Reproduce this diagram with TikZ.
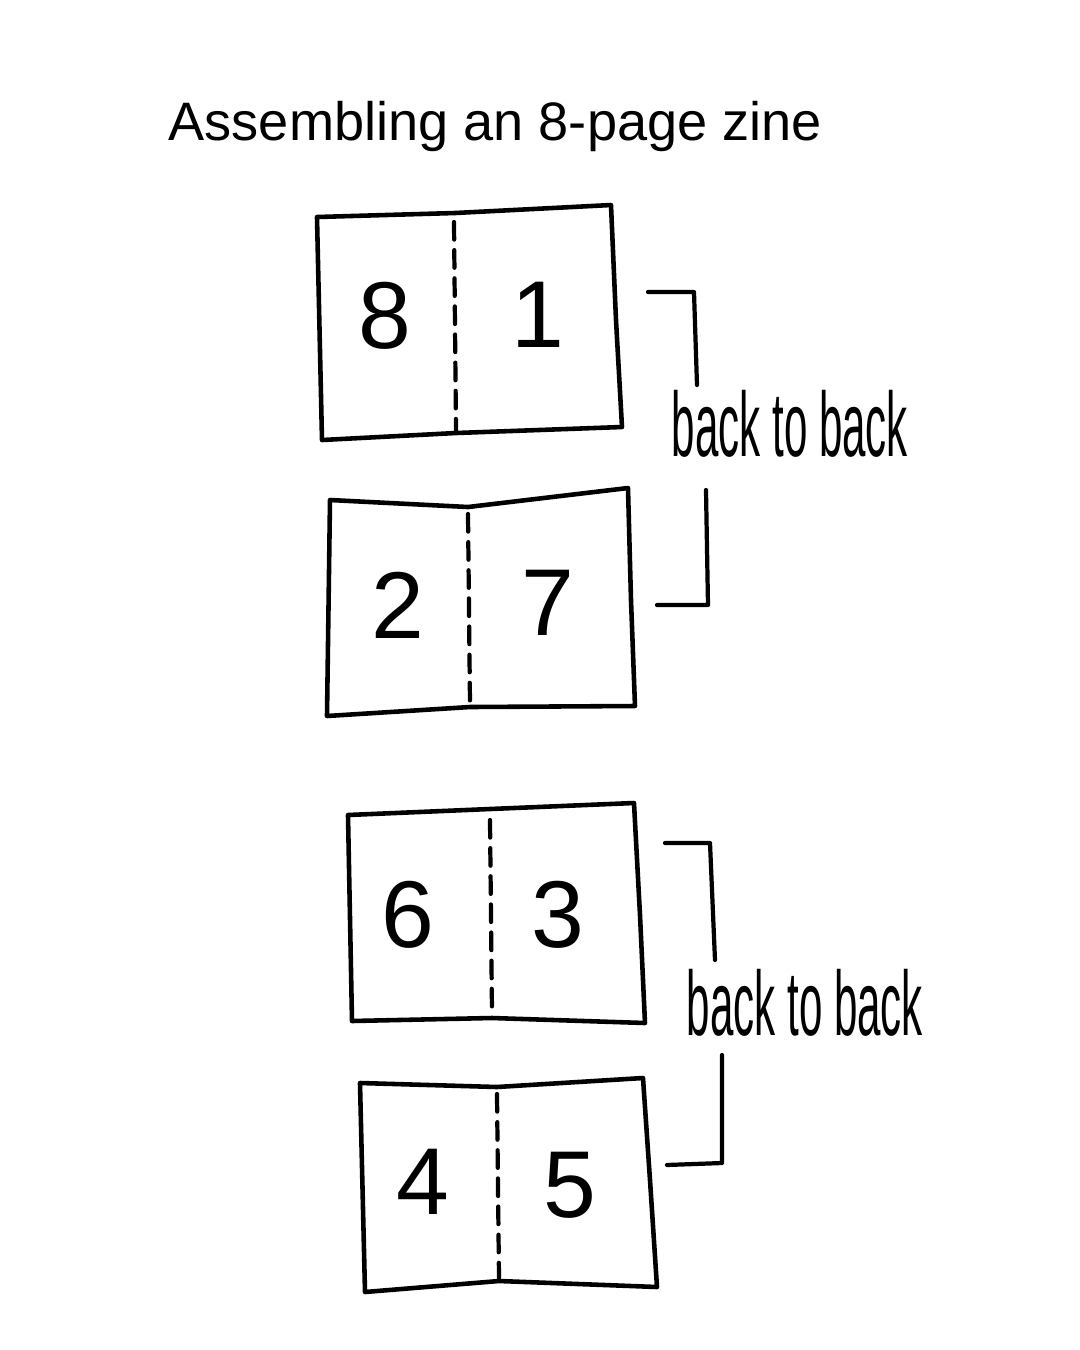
\documentclass[tikz,border=0pt]{standalone}
\usepackage{fontspec}
\setmainfont{Liberation Sans}
\usetikzlibrary{positioning}

\begin{document}
\begin{tikzpicture}[x=0.01cm, y=-0.01cm, line join=round, line cap=round,
    sheet/.style={line width=1.3pt},
    fold/.style={line width=1.2pt, dash pattern=on 5pt off 3pt},
    bracket/.style={line width=1.2pt},
    pagenum/.style={inner sep=0pt, font=\fontsize{27}{27}\selectfont},
    note/.style={inner sep=0pt, font=\fontsize{26}{26}\selectfont, xscale=0.46}]

    \useasboundingbox (0,0) rectangle (1080,1350);
    \node (title) [anchor=base west, inner sep=0pt, font=\fontsize{15.4}{18}\selectfont] at (168,140) {Assembling an 8-page zine};

    % first pair
    \draw[sheet] (317,217) -- (455,213) -- (611,205) -- (616,320) -- (622,427) -- (456,433) -- (322,440) -- cycle;
    \draw[fold] (454,222) -- (456,430);
    \node[pagenum] (p8) at (385,316) {8};
    \node[pagenum] (p1) at (538,315) {1};

    \draw[sheet] (330,500) -- (468,507) -- (628,488) -- (631,600) -- (635,706) -- (470,707) -- (327,716) -- cycle;
    \draw[fold] (468,514) -- (470,704);
    \node[pagenum] (p2) at (398,605) {2};
    \node[pagenum] (p7) at (548,603) {7};

    \node[note] (btb1) at (790,424) {back to back};
    \coordinate (b1a) at (648,292);
    \coordinate (b1b) at (694,292);
    \coordinate (b1c) at (697,385);
    \coordinate (b1d) at (706,490);
    \coordinate (b1e) at (708,605);
    \coordinate (b1f) at (657,605);
    \draw[bracket] (b1a) -- (b1b) -- (b1c);
    \draw[bracket] (b1d) -- (b1e) -- (b1f);

    % second pair
    \draw[sheet] (348,815) -- (490,809) -- (634,803) -- (640,915) -- (645,1023) -- (492,1018) -- (352,1021) -- cycle;
    \draw[fold] (490,820) -- (492,1012);
    \node[pagenum] (p6) at (408,915) {6};
    \node[pagenum] (p3) at (558,915) {3};

    \draw[sheet] (360,1083) -- (497,1087) -- (643,1078) -- (650,1180) -- (657,1287) -- (499,1281) -- (365,1292) -- cycle;
    \draw[fold] (497,1094) -- (499,1278);
    \node[pagenum] (p4) at (423,1182) {4};
    \node[pagenum] (p5) at (570,1185) {5};

    \node[note] (btb2) at (805,1003) {back to back};
    \coordinate (b2a) at (665,843);
    \coordinate (b2b) at (710,843);
    \coordinate (b2c) at (715,960);
    \coordinate (b2d) at (722,1055);
    \coordinate (b2e) at (722,1163);
    \coordinate (b2f) at (667,1165);
    \draw[bracket] (b2a) -- (b2b) -- (b2c);
    \draw[bracket] (b2d) -- (b2e) -- (b2f);
\end{tikzpicture}
\end{document}
